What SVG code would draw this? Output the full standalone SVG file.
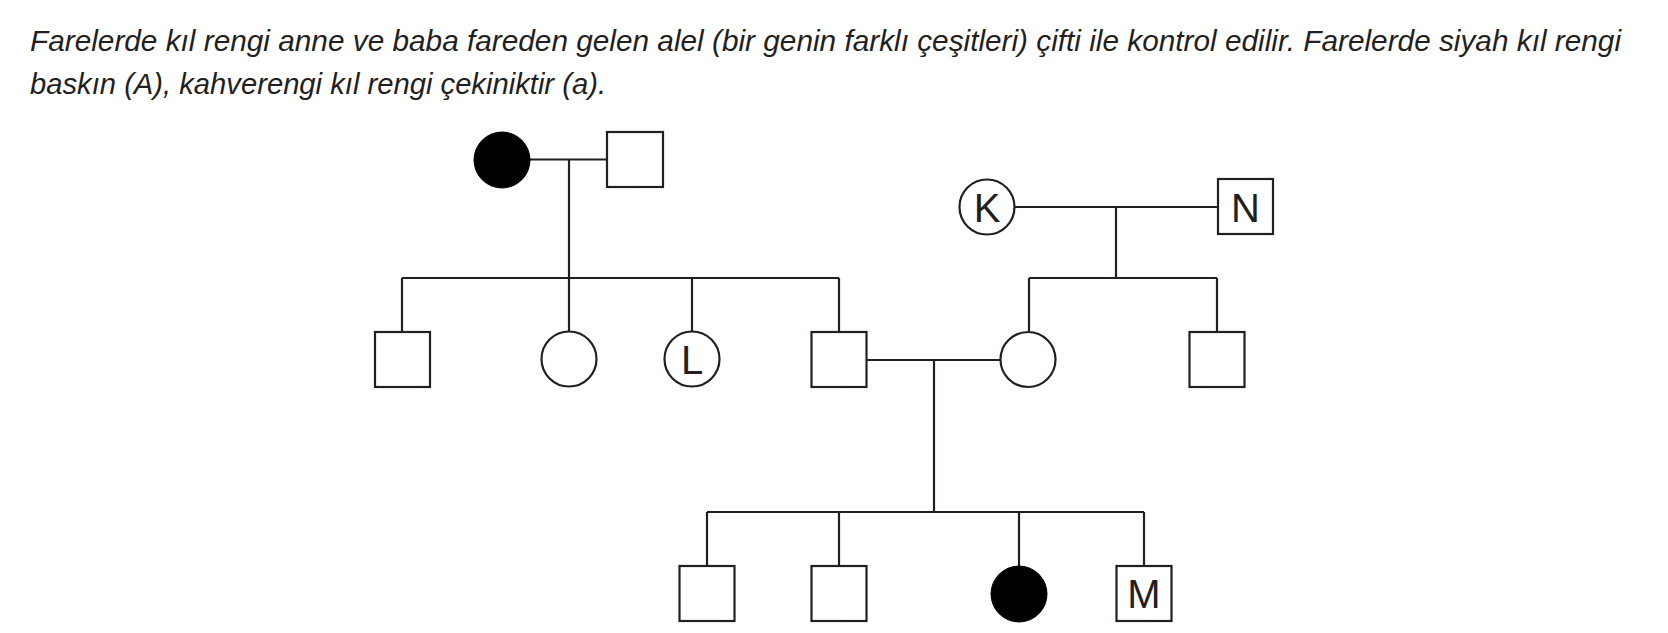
<svg xmlns="http://www.w3.org/2000/svg" width="1668" height="633" viewBox="0 0 1668 633">
<style>
.t{font-family:"Liberation Sans",Arial,sans-serif;font-style:italic;font-size:29px;fill:#231f20}
.lbl{font-family:"Liberation Sans",Arial,sans-serif;font-size:40px;fill:#231f20;text-anchor:middle}
.n{fill:#fff;stroke:#231f20;stroke-width:2.2}
.f{fill:#000;stroke:#000;stroke-width:1}
.c line{stroke:#231f20;stroke-width:2.2}
</style>
<rect width="1668" height="633" fill="#fff"/>
<text class="t" x="30" y="51" textLength="1591" lengthAdjust="spacingAndGlyphs">Farelerde kıl rengi anne ve baba fareden gelen alel (bir genin farklı çeşitleri) çifti ile kontrol edilir. Farelerde siyah kıl rengi</text>
<text class="t" x="30" y="94" textLength="576" lengthAdjust="spacingAndGlyphs">baskın (A), kahverengi kıl rengi çekiniktir (a).</text>
<g class="c" id="connectors">
<line x1="530" y1="159.5" x2="607" y2="159.5"/>
<line x1="569" y1="159.5" x2="569" y2="278"/>
<line x1="402" y1="278" x2="839" y2="278"/>
<line x1="402" y1="278" x2="402" y2="332"/>
<line x1="569" y1="278" x2="569" y2="331"/>
<line x1="692" y1="278" x2="692" y2="331"/>
<line x1="839" y1="278" x2="839" y2="332"/>
<line x1="1015" y1="207" x2="1218" y2="207"/>
<line x1="1116" y1="207" x2="1116" y2="278"/>
<line x1="1029" y1="278" x2="1217" y2="278"/>
<line x1="1029" y1="278" x2="1029" y2="331"/>
<line x1="1217" y1="278" x2="1217" y2="332"/>
<line x1="867" y1="360" x2="1000" y2="360"/>
<line x1="934" y1="360" x2="934" y2="512"/>
<line x1="707" y1="512" x2="1144" y2="512"/>
<line x1="707" y1="512" x2="707" y2="566"/>
<line x1="839" y1="512" x2="839" y2="566"/>
<line x1="1019" y1="512" x2="1019" y2="566"/>
<line x1="1144" y1="512" x2="1144" y2="566"/>
</g>
<g id="g1-mother"><circle class="f" cx="502" cy="160" r="28"/></g>
<g id="g1-father"><rect class="n" x="607" y="132" width="56" height="55"/></g>
<g id="K"><circle class="n" cx="987" cy="207" r="27.5"/><text class="lbl" x="987" y="221.5">K</text></g>
<g id="N"><rect class="n" x="1218" y="179" width="55" height="55"/><text class="lbl" x="1245.5" y="221.5">N</text></g>
<g id="g2-son1"><rect class="n" x="375" y="332" width="55" height="55"/></g>
<g id="g2-daughter1"><circle class="n" cx="569" cy="359" r="27.5"/></g>
<g id="L"><circle class="n" cx="692" cy="359" r="27.5"/><text class="lbl" x="692" y="373.5">L</text></g>
<g id="g2-son2"><rect class="n" x="811.5" y="332" width="55" height="55"/></g>
<g id="g2-wife"><circle class="n" cx="1028" cy="359.5" r="27.5"/></g>
<g id="g2-son3"><rect class="n" x="1189.5" y="332" width="55" height="55"/></g>
<g id="g3-son1"><rect class="n" x="679.5" y="566" width="55" height="55"/></g>
<g id="g3-son2"><rect class="n" x="811.5" y="566" width="55" height="55"/></g>
<g id="g3-daughter"><circle class="f" cx="1019" cy="594" r="28"/></g>
<g id="M"><rect class="n" x="1116.5" y="566" width="55" height="55"/><text class="lbl" x="1144" y="608">M</text></g>
</svg>
